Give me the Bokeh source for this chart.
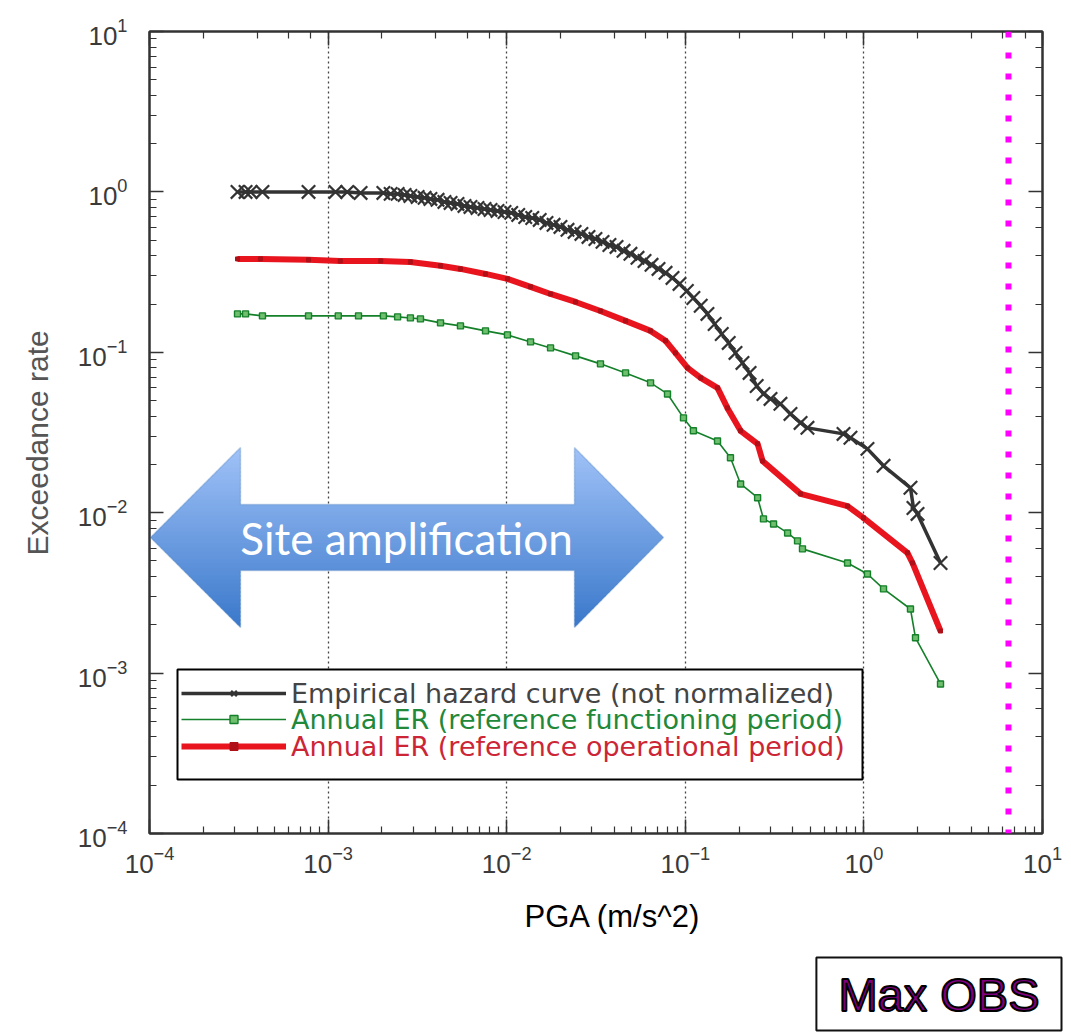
from bokeh.plotting import figure
from bokeh.models import (Range1d, LogAxis, Legend, LegendItem, BoxAnnotation,
                          PolyAnnotation, Label, Span, Title)
from bokeh.embed import file_html
from bokeh.resources import INLINE

# ---------------- data ----------------
emp_x = [3.11e-4, 3.45e-4, 3.68e-4, 4.29e-4, 7.77e-4, 1.10e-3, 1.28e-3, 1.52e-3, 2.04e-3,
         2.24e-3, 2.45e-3, 2.68e-3, 2.89e-3, 3.17e-3, 3.47e-3, 3.74e-3, 4.10e-3, 4.48e-3, 4.85e-3,
         5.30e-3, 5.80e-3, 6.27e-3, 6.86e-3, 7.51e-3, 8.12e-3, 8.88e-3, 9.72e-3, 1.06e-2, 1.16e-2,
         1.27e-2, 1.39e-2, 1.53e-2, 1.67e-2, 1.83e-2, 2.00e-2, 2.19e-2, 2.40e-2, 2.62e-2, 2.87e-2,
         3.14e-2, 3.44e-2, 3.76e-2, 4.12e-2, 4.51e-2, 4.93e-2, 5.40e-2, 5.91e-2, 6.47e-2, 7.08e-2,
         7.75e-2, 8.48e-2, 9.28e-2, 0.102, 0.111, 0.122, 0.133, 0.146, 0.160, 0.175,
         0.191, 0.209, 0.229, 0.251, 0.274, 0.300,
         0.341, 0.388, 0.442, 0.483, 0.769, 0.841, 1.047, 1.288, 1.823, 1.895, 1.996, 2.685]
emp_y = [1.0, 1.0, 1.0, 1.0, 1.0, 1.0, 1.0, 0.986, 0.986,
         0.972, 0.972, 0.958, 0.944, 0.931, 0.918, 0.904, 0.892, 0.866, 0.854,
         0.842, 0.818, 0.806, 0.795, 0.783, 0.772, 0.761, 0.750, 0.740, 0.719,
         0.698, 0.688, 0.669, 0.641, 0.623, 0.605, 0.580, 0.563, 0.547, 0.524,
         0.509, 0.488, 0.467, 0.454, 0.429, 0.411, 0.388, 0.371, 0.351, 0.331,
         0.313, 0.291, 0.267, 0.241, 0.218, 0.195, 0.1735, 0.150, 0.130, 0.1144,
         0.0991, 0.0859, 0.0744, 0.0617, 0.0550, 0.0512,
         0.0477, 0.0413, 0.0363, 0.0338, 0.0310, 0.0293, 0.0250, 0.0196, 0.0143, 0.0107, 0.00983, 0.00486]

fun_x = [3.11e-4, 3.45e-4, 4.29e-4, 7.77e-4, 1.14e-3, 1.48e-3, 2.04e-3, 2.45e-3, 2.89e-3, 3.29e-3,
         4.26e-3, 5.51e-3, 7.61e-3, 1.01e-2, 1.36e-2, 1.76e-2, 2.43e-2, 3.35e-2, 4.63e-2, 6.39e-2,
         7.95e-2, 9.77e-2, 0.111, 0.1515, 0.179, 0.204, 0.254, 0.274, 0.312, 0.374,
         0.425, 0.453, 0.810, 1.047, 1.288, 1.823, 1.945, 2.685]
fun_y = [0.1735, 0.1735, 0.1686, 0.1686, 0.1686, 0.1686, 0.1686, 0.1662, 0.1638, 0.1615,
         0.1526, 0.1461, 0.136, 0.1284, 0.1161, 0.1065, 0.0950, 0.0847, 0.0744, 0.0645,
         0.0550, 0.0390, 0.0324, 0.0280, 0.0220, 0.0151, 0.0124, 0.00915, 0.00851, 0.00748,
         0.00667, 0.00595, 0.00486, 0.00415, 0.00335, 0.00251, 0.00166, 0.000856]

op_x = [3.11e-4, 4.18e-4, 7.77e-4, 1.17e-3, 1.97e-3, 2.89e-3, 4.26e-3, 5.51e-3, 7.61e-3, 1.01e-2,
        1.36e-2, 1.76e-2, 2.43e-2, 3.35e-2, 4.63e-2, 6.39e-2, 7.75e-2, 8.81e-2, 0.103, 0.122,
        0.1515, 0.172, 0.204, 0.254, 0.271, 0.442, 0.810, 0.995, 1.754, 1.871, 2.685]
op_y = [0.382, 0.382, 0.377, 0.371, 0.371, 0.366, 0.346, 0.331, 0.308, 0.287,
        0.256, 0.231, 0.206, 0.181, 0.157, 0.136, 0.118, 0.0991, 0.0799, 0.0692,
        0.0600, 0.0450, 0.0324, 0.0269, 0.0210, 0.0131, 0.0110, 0.00928, 0.00562, 0.00486, 0.00183]

MAX_OBS = 6.45  # m/s^2

series_labels = ["Empirical hazard curve (not normalized)",
                 "Annual ER (reference functioning period)",
                 "Annual ER (reference operational period)"]

# ---------------- styling ----------------
BLACK = "#333333"
GREEN = "#15802a"
RED = "#e8141e"
FL, FB = 149, 833          # frame left / bottom in canvas pixels
def sx(px): return px - FL
def sy(py): return FB - py

p = figure(width=1071, height=1032, x_axis_type="log", y_axis_type="log",
           x_range=Range1d(1e-4, 10), y_range=Range1d(1e-4, 10),
           output_backend="svg", toolbar_location=None,
           min_border_left=149, min_border_right=29, min_border_top=31, min_border_bottom=199)
p.background_fill_color = "white"
p.border_fill_color = "white"
p.outline_line_color = BLACK
p.outline_line_width = 2

def style_axis(ax, labels=True):
    ax.axis_line_color = BLACK
    ax.axis_line_width = 2
    ax.major_tick_in = 14
    ax.major_tick_out = 0
    ax.minor_tick_in = 7
    ax.minor_tick_out = 0
    ax.major_tick_line_color = BLACK
    ax.minor_tick_line_color = BLACK
    ax.major_tick_line_width = 1.5
    ax.minor_tick_line_width = 1.2
    if labels:
        ax.major_label_text_font = "Liberation Sans"
        ax.major_label_text_font_size = "26px"
        ax.major_label_text_color = "#3a3a3a"
    else:
        ax.major_label_text_font_size = "4px"
        ax.major_label_text_alpha = 0.0
        ax.major_label_standoff = 0

style_axis(p.xaxis[0])
style_axis(p.yaxis[0])
p.xaxis[0].major_label_standoff = 12
p.yaxis[0].major_label_standoff = 22
top_ax = LogAxis()
right_ax = LogAxis()
style_axis(top_ax, False)
style_axis(right_ax, False)
p.add_layout(top_ax, "above")
p.add_layout(right_ax, "right")

p.ygrid.visible = False
p.xgrid.grid_line_color = "#444444"
p.xgrid.grid_line_dash = "2 3"
p.xgrid.grid_line_width = 1.3

# ---------------- axis titles & Max OBS box (side panels) ----------------
p.add_layout(Title(text="PGA (m/s^2)", align="left", offset=375, vertical_align="middle",
                   standoff=44, text_font="Liberation Sans", text_font_size="31px",
                   text_font_style="normal", text_color="black"), "below")
p.add_layout(Title(text="Max OBS", align="right", offset=-19, vertical_align="middle",
                   standoff=0, text_font="Liberation Sans", text_font_size="47px",
                   text_font_style="normal", text_color="#800080", text_outline_color="black",
                   background_fill_color="white", border_line_color="#111111",
                   border_line_width=2, padding=(22, 10)), "below")
p.add_layout(Title(text="Exceedance rate", align="left", offset=278, vertical_align="middle",
                   standoff=39, text_font="Liberation Sans", text_font_size="30px",
                   text_font_style="normal", text_color="#555555"), "left")

# ---------------- curves ----------------
blk_line = p.line(emp_x, emp_y, line_color=BLACK, line_width=3.5)
blk_pts = p.scatter(emp_x, emp_y, marker="x", size=19, line_color=BLACK, line_width=2.2)
grn_line = p.line(fun_x, fun_y, line_color=GREEN, line_width=1.6)
grn_pts = p.scatter(fun_x, fun_y, marker="square", size=6, line_color=GREEN,
                    fill_color="#6fbf6f", line_width=1.4)
red_line = p.line(op_x, op_y, line_color=RED, line_width=6)
red_pts = p.scatter(op_x, op_y, marker="square", size=4, line_color="#b01018", fill_color="#b01018")

# ---------------- "Site amplification" double arrow ----------------
arrow_poly = [(150, 537), (240, 447), (240, 504), (574, 504), (574, 447), (663, 537),
              (574, 627), (574, 570), (240, 570), (240, 627)]

def clip_slab(poly, y0, y1):
    def inter(a, b, yc):
        t = (yc - a[1]) / (b[1] - a[1])
        return (a[0] + t * (b[0] - a[0]), yc)
    def clip_edge(pts, keep, yc):
        out = []
        n = len(pts)
        for i in range(n):
            cur, prev = pts[i], pts[i - 1]
            cin, pin = keep(cur[1]), keep(prev[1])
            if cin:
                if not pin:
                    out.append(inter(prev, cur, yc))
                out.append(cur)
            elif pin:
                out.append(inter(prev, cur, yc))
        return out
    pts = clip_edge(poly, lambda y: y >= y0, y0)
    if pts:
        pts = clip_edge(pts, lambda y: y <= y1, y1)
    return pts

top_c, bot_c = (160, 194, 248), (58, 120, 202)
ytop, ybot = 447, 627
nb = 45
h = (ybot - ytop) / nb
for i in range(nb):
    y0 = ytop + i * h
    y1 = min(ybot, y0 + h + 1.0)
    t = (i + 0.5) / nb
    c = tuple(int(round(top_c[k] + (bot_c[k] - top_c[k]) * t)) for k in range(3))
    pts = clip_slab(arrow_poly, y0, y1)
    if len(pts) >= 3:
        p.add_layout(PolyAnnotation(xs=[sx(a) for a, b in pts], ys=[sy(b) for a, b in pts],
                                    xs_units="screen", ys_units="screen",
                                    fill_color="#%02x%02x%02x" % c, fill_alpha=1.0,
                                    line_color=None))
p.add_layout(PolyAnnotation(xs=[sx(a) for a, b in arrow_poly], ys=[sy(b) for a, b in arrow_poly],
                            xs_units="screen", ys_units="screen",
                            fill_alpha=0, line_color="#4a7ebb", line_width=1.5))
p.add_layout(Label(x=sx(406), y=sy(537), x_units="screen", y_units="screen",
                   text="Site amplification", text_font="Lato", text_font_size="44px",
                   text_color="white", text_align="center", text_baseline="middle"))

# ---------------- legend ----------------
p.add_layout(BoxAnnotation(left=sx(177), right=sx(862), top=sy(669), bottom=sy(779),
                           left_units="screen", right_units="screen",
                           top_units="screen", bottom_units="screen",
                           fill_color="white", fill_alpha=1.0,
                           line_color="black", line_alpha=1.0, line_width=2))

def add_leg(label, renderers, color, center_y):
    leg = Legend(items=[LegendItem(label=label, renderers=renderers)],
                 location=(sx(181), sy(center_y) - 15.7),
                 glyph_width=105, glyph_height=20, label_height=20, label_standoff=5,
                 padding=0, margin=0, spacing=0,
                 background_fill_alpha=0, border_line_alpha=0,
                 label_text_color=color, label_text_font="DejaVu Sans",
                 label_text_font_size="27px")
    p.add_layout(leg)

add_leg(series_labels[0], [blk_line, blk_pts], "#444444", 693)
add_leg(series_labels[1], [grn_line, grn_pts], "#22883a", 719)
add_leg(series_labels[2], [red_line, red_pts], "#cc2636", 746)

# ---------------- Max OBS marker line ----------------
p.add_layout(Span(location=MAX_OBS, dimension="height", line_color="#ff00ff",
                  line_width=6, line_dash="6 15", line_cap="butt"))

open("out.html", "w").write(file_html(p, INLINE))
